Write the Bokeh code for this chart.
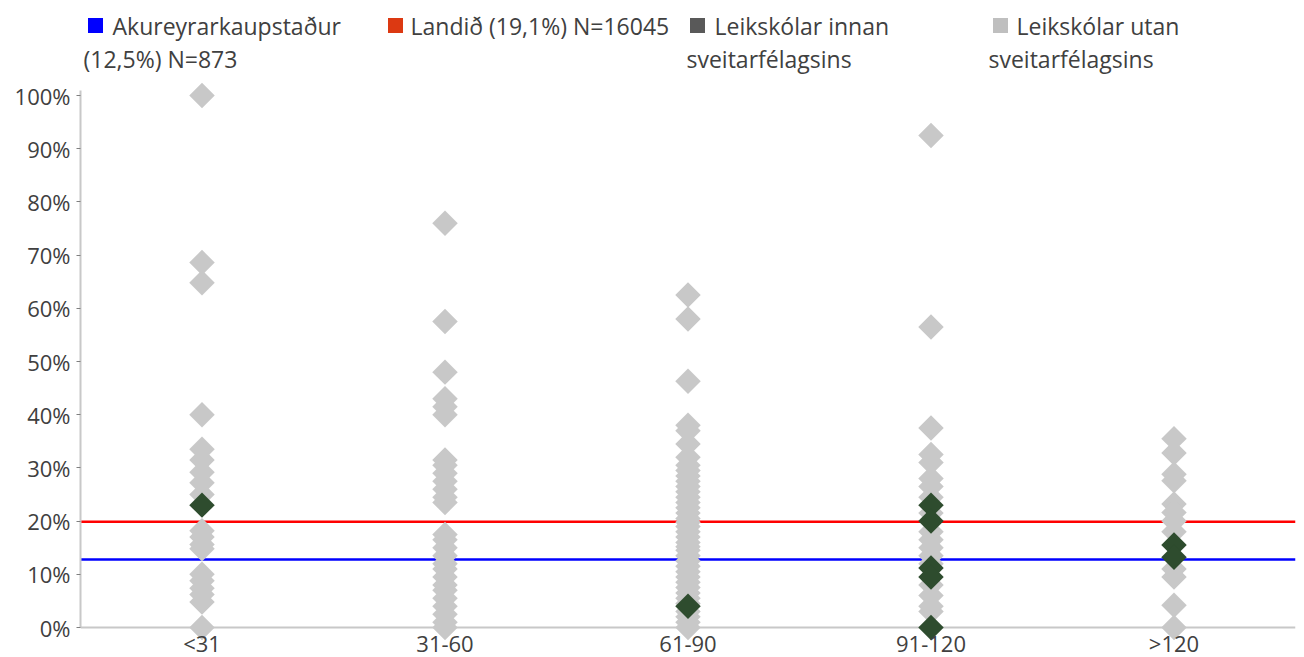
import math
from bokeh.plotting import figure
from bokeh.models import Range1d, Span, NumeralTickFormatter, FixedTicker, ColumnDataSource
from bokeh.layouts import column
from bokeh.embed import file_html
from bokeh.resources import INLINE
from bokeh.core.properties import value

# ---------------- data ----------------
categories = ["<31", "31-60", "61-90", "91-120", ">120"]

# Leikskólar utan sveitarfélagsins (percent)
outside_lt31 = [100.0, 68.6, 64.8, 40.0, 33.5, 31.5, 29.2, 27.2, 25.0, 18.2, 17.0, 15.6,
                14.8, 10.0, 8.8, 7.4, 6.2, 4.8, 0.0]
outside_31_60 = [76.0, 57.5, 48.0, 43.0, 41.5, 40.0, 31.5, 30.5, 29.0, 27.5, 26.0, 24.5,
                 23.5, 17.5, 16.5, 15.0, 13.5, 12.0, 11.0, 9.5, 8.0, 7.0, 5.5, 4.0, 2.5,
                 1.0, 0.0]
outside_61_90 = [62.5, 58.0, 46.3, 38.0, 37.0, 34.5, 32.0, 30.5, 29.5, 28.5, 27.5, 26.5,
                 25.5, 24.5, 23.5, 22.5, 21.5, 20.5, 19.8, 19.0, 18.0, 17.0, 16.0, 15.2,
                 14.5, 13.5, 12.5, 11.5, 10.5, 9.5, 8.5, 7.5, 6.5, 5.5, 4.5, 3.0, 2.0,
                 1.0, 0.0]
outside_91_120 = [92.5, 56.5, 37.5, 32.5, 31.0, 28.0, 26.5, 24.5, 21.5, 18.0, 16.5, 15.0,
                  13.5, 12.0, 8.0, 6.0, 4.0, 3.0]
outside_gt120 = [35.5, 32.8, 28.8, 27.6, 23.2, 21.6, 20.0, 18.0, 11.0, 9.5, 4.2, 0.0]

# Leikskólar innan sveitarfélagsins (percent)
inside_lt31 = [23.0]
inside_31_60 = []
inside_61_90 = [4.0]
inside_91_120 = [23.0, 20.0, 11.2, 9.5, 0.0]
inside_gt120 = [15.5, 13.2]

outside_values = [outside_lt31, outside_31_60, outside_61_90, outside_91_120, outside_gt120]
inside_values = [inside_lt31, inside_31_60, inside_61_90, inside_91_120, inside_gt120]

akureyri_level = 12.8   # percent
national_level = 19.9   # percent

y_ticks = [0, 10, 20, 30, 40, 50, 60, 70, 80, 90, 100]

legend_lines1 = ["Akureyrarkaupstaður", "Landið (19,1%) N=16045", "Leikskólar innan", "Leikskólar utan"]
legend_lines2 = ["(12,5%) N=873", "", "sveitarfélagsins", "sveitarfélagsins"]
legend_colors = ["#0000ff", "#dc3912", "#595959", "#bfbfbf"]

# ---------------- style / layout ----------------
FONT = "Open Sans"
FS = "22px"
LEG_FS = "23px"
TEXT = "#404040"
GRAY_MARK = "#c8c8c8"
DARK_MARK = "#2e4c2e"
AXIS = "#c8c8c8"
W = 1304
LEFT, RIGHT = 80, 9          # frame borders (px)
LEG_H = 80                   # legend strip height
MAIN_H = 657 - LEG_H
PX_PER_UNIT = 532.0          # pixels for 100 %
ZERO_FROM_BOTTOM = 30.0      # pixels from canvas bottom to the 0 % line
y_start = -ZERO_FROM_BOTTOM / PX_PER_UNIT
y_end = (MAIN_H - ZERO_FROM_BOTTOM) / PX_PER_UNIT

# ---------------- legend figure ----------------
leg = figure(width=W, height=LEG_H, x_range=Range1d(LEFT, W - RIGHT), y_range=Range1d(LEG_H, 0),
             output_backend="svg", toolbar_location=None, min_border=0,
             min_border_left=LEFT, min_border_right=RIGHT,
             x_axis_type=None, y_axis_type=None, outline_line_color=None)
leg.grid.visible = False
sq_x = [95, 395, 697, 1000]
t1_x = [112, 410, 714, 1016]
t2_x = [83, 410, 686, 988]
leg.scatter(x=sq_x, y=[25] * 4, marker="square", size=15, fill_color=legend_colors, line_color=None)
leg.text(x=t1_x, y=[25] * 4, text=legend_lines1, text_font=value(FONT), text_font_size=LEG_FS,
         text_color=TEXT, text_baseline="middle", text_align="left")
leg.text(x=t2_x, y=[58] * 4, text=legend_lines2, text_font=value(FONT), text_font_size=LEG_FS,
         text_color=TEXT, text_baseline="middle", text_align="left")

# ---------------- main figure ----------------
p = figure(width=W, height=MAIN_H, x_range=categories, y_range=Range1d(y_start, y_end),
           output_backend="svg", toolbar_location=None,
           min_border_left=LEFT, min_border_right=RIGHT, min_border_top=0, min_border_bottom=0,
           outline_line_color=None)
p.grid.visible = False

ox, oy, ix, iy = [], [], [], []
for cat, vals in zip(categories, outside_values):
    ox += [cat] * len(vals)
    oy += [v / 100 for v in vals]
for cat, vals in zip(categories, inside_values):
    ix += [cat] * len(vals)
    iy += [v / 100 for v in vals]

p.add_layout(Span(location=0, dimension="width", line_color=AXIS, line_width=2, level="underlay"))
p.add_layout(Span(location=national_level / 100, dimension="width", line_color="#ff0000",
                  line_width=2.5, level="underlay"))
p.add_layout(Span(location=akureyri_level / 100, dimension="width", line_color="#0000ff",
                  line_width=2.5, level="underlay"))

p.scatter(x="x", y="y", source=ColumnDataSource(dict(x=ox, y=oy)), marker="square",
          angle=math.pi / 4, size=18, fill_color=GRAY_MARK, line_color=None)
p.scatter(x="x", y="y", source=ColumnDataSource(dict(x=ix, y=iy)), marker="square",
          angle=math.pi / 4, size=18, fill_color=DARK_MARK, line_color=None)

p.yaxis.ticker = FixedTicker(ticks=[t / 100 for t in y_ticks])
p.yaxis.formatter = NumeralTickFormatter(format="0%")
p.yaxis.bounds = (0, 1.0094)
for ax in (p.xaxis, p.yaxis):
    ax.major_label_text_font = FONT
    ax.major_label_text_font_size = FS
    ax.major_label_text_color = TEXT
    ax.minor_tick_line_color = None
p.yaxis.axis_line_color = AXIS
p.yaxis.axis_line_width = 2
p.yaxis.major_tick_in = 0
p.yaxis.major_tick_out = 4
p.yaxis.major_tick_line_color = "#7f7f7f"
p.yaxis.major_label_standoff = 6
p.xaxis.fixed_location = 0
p.xaxis.axis_line_color = None
p.xaxis.major_tick_line_color = None
p.xaxis.major_tick_out = 0
p.xaxis.major_label_standoff = 0

layout = column(leg, p, spacing=0)
open("out.html", "w").write(file_html(layout, INLINE))
